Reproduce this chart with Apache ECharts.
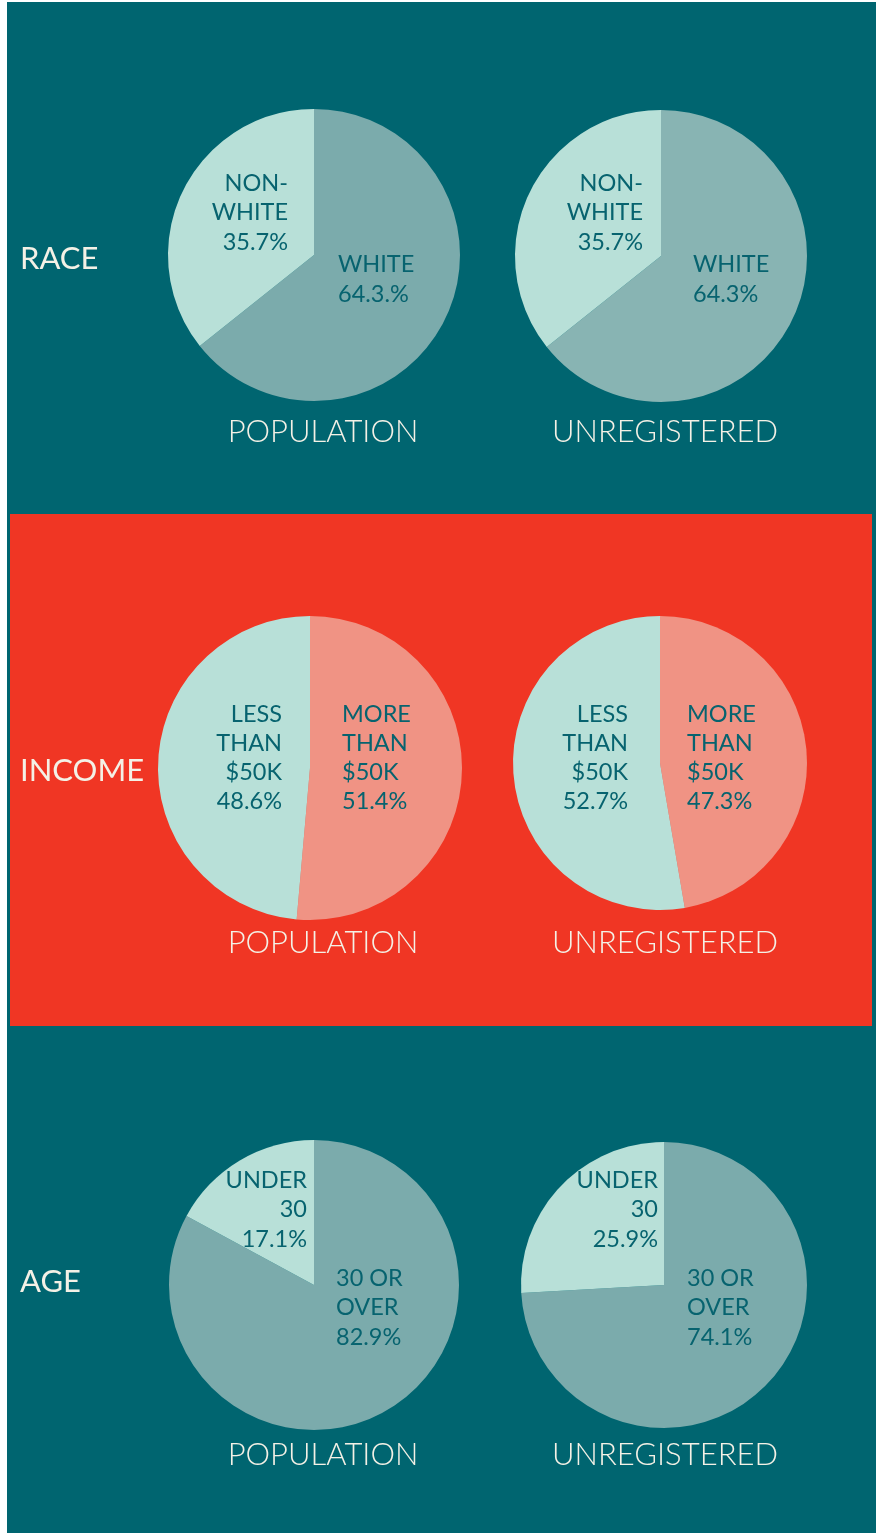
<!DOCTYPE html>
<html><head><meta charset="utf-8">
<script src="https://cdn.jsdelivr.net/npm/echarts@6/dist/echarts.min.js"></script>
<style>html,body{margin:0;padding:0;background:#fff}#c{width:879px;height:1533px}</style>
</head><body><div id="c"></div>
<script>
// ---- data ----
const sections = ['RACE', 'INCOME', 'AGE'];
const groups = ['POPULATION', 'UNREGISTERED'];
const raceCats = ['WHITE', 'NON-WHITE'];
const racePop = [64.3, 35.7];
const raceUnreg = [64.3, 35.7];
const incomeCats = ['MORE THAN $50K', 'LESS THAN $50K'];
const incomePop = [51.4, 48.6];
const incomeUnreg = [47.3, 52.7];
const ageCats = ['30 OR OVER', 'UNDER 30'];
const agePop = [82.9, 17.1];
const ageUnreg = [74.1, 25.9];
// label lines (as printed)
const raceLabels = [
  [['WHITE', '64.3.%'], ['NON-', 'WHITE', '35.7%']],
  [['WHITE', '64.3%'], ['NON-', 'WHITE', '35.7%']]
];
const incomeLabels = [
  [['MORE', 'THAN', '$50K', '51.4%'], ['LESS', 'THAN', '$50K', '48.6%']],
  [['MORE', 'THAN', '$50K', '47.3%'], ['LESS', 'THAN', '$50K', '52.7%']]
];
const ageLabels = [
  [['30 OR', 'OVER', '82.9%'], ['UNDER', '30', '17.1%']],
  [['30 OR', 'OVER', '74.1%'], ['UNDER', '30', '25.9%']]
];

const TEAL = '#006570', RED = '#F03624', TXT = '#07636F', CREAM = '#F4F1E6';
const LIGHT = '#B8E0D8', MID = '#7BABAC', MID2 = '#88B4B3', SALMON = '#F09384';
const FONT = 'Lato, "Open Sans", sans-serif';

const pies = [
  {cats: raceCats, vals: racePop, c: [314, 255], r: 146, colors: [MID, LIGHT]},
  {cats: raceCats, vals: raceUnreg, c: [661, 256], r: 146, colors: [MID2, LIGHT]},
  {cats: incomeCats, vals: incomePop, c: [310, 768], r: 152, colors: [SALMON, LIGHT]},
  {cats: incomeCats, vals: incomeUnreg, c: [660, 763], r: 147, colors: [SALMON, LIGHT]},
  {cats: ageCats, vals: agePop, c: [314, 1285], r: 145, colors: [MID, LIGHT]},
  {cats: ageCats, vals: ageUnreg, c: [664, 1285], r: 143, colors: [MID, LIGHT]}
];

const series = pies.map(p => ({
  type: 'pie', center: p.c, radius: [0, p.r], startAngle: 90, clockwise: true,
  silent: true, animation: false, label: {show: false}, labelLine: {show: false},
  data: p.cats.map((n, i) => ({name: n, value: p.vals[i], itemStyle: {color: p.colors[i]}}))
}));

const graphic = [
  {type: 'rect', shape: {x: 7, y: 2, width: 869, height: 1531}, style: {fill: TEAL}, z: -10},
  {type: 'rect', shape: {x: 10, y: 514, width: 862, height: 512}, style: {fill: RED}, z: -9}
];
function txt(s, x, y, align, size, color, weight) {
  graphic.push({type: 'text', x: x, y: y, z: 10, style: {text: s, fill: color, font: (weight || 'normal') + ' ' + size + 'px ' + FONT, textAlign: align, textVerticalAlign: 'middle'}});
}
// section titles
const secY = [259, 771, 1282];
sections.forEach((s, i) => txt(s, 20, secY[i], 'left', 31, CREAM, 'normal'));
// group labels
const grpY = [432, 943, 1455];
const grpX = [323, 665];
grpY.forEach(y => groups.forEach((g, j) => txt(g, grpX[j], y, 'center', 31, CREAM, '300')));
// slice labels
function lines(arr, x, y0, align, step) { arr.forEach((s, k) => txt(s, x, y0 + k * step, align, 23.5, TXT, 'normal')); }
// race
lines(raceLabels[0][0], 338, 264, 'left', 30); lines(raceLabels[0][1], 288, 183, 'right', 29.5);
lines(raceLabels[1][0], 693, 264, 'left', 30); lines(raceLabels[1][1], 643, 183, 'right', 29.5);
// income
lines(incomeLabels[0][0], 342, 714, 'left', 29.3); lines(incomeLabels[0][1], 282, 714, 'right', 29.3);
lines(incomeLabels[1][0], 687, 714, 'left', 29.3); lines(incomeLabels[1][1], 628, 714, 'right', 29.3);
// age
lines(ageLabels[0][0], 336, 1278, 'left', 29.5); lines(ageLabels[0][1], 307, 1180, 'right', 29.5);
lines(ageLabels[1][0], 687, 1278, 'left', 29.5); lines(ageLabels[1][1], 658, 1180, 'right', 29.5);

const chart = echarts.init(document.getElementById('c'), null, {renderer: 'canvas'});
chart.setOption({backgroundColor: '#ffffff', animation: false, series: series, graphic: graphic});
</script></body></html>
